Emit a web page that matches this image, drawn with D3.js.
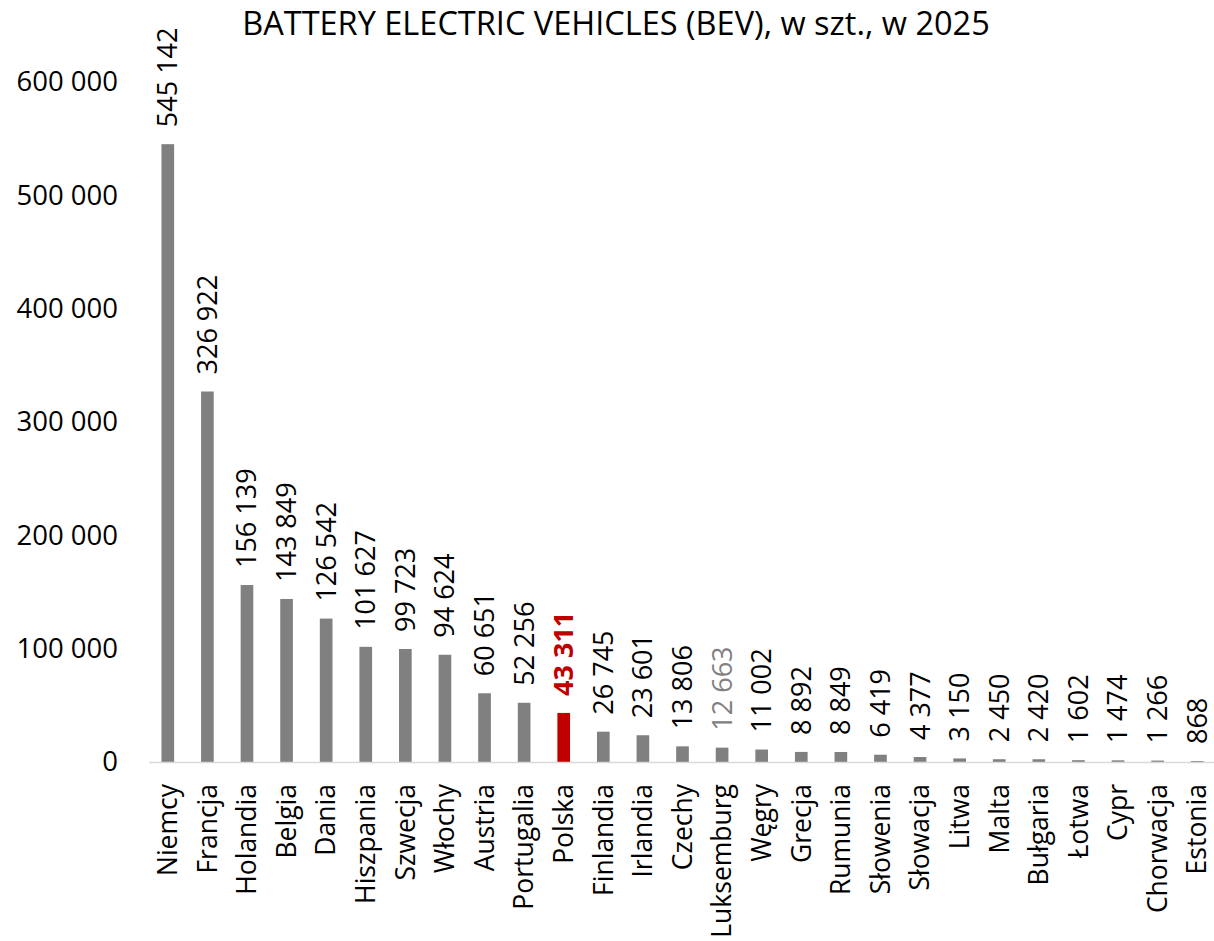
<!DOCTYPE html>
<html><head><meta charset="utf-8">
<script src="https://cdn.jsdelivr.net/npm/d3@7/dist/d3.min.js"></script>
<style>body{margin:0;background:#fff;} text{font-family:"Open Sans",sans-serif;}</style>
</head><body><svg id="c" width="1214" height="941"></svg>
<script>
const categories = ["Niemcy","Francja","Holandia","Belgia","Dania","Hiszpania","Szwecja","Włochy","Austria","Portugalia","Polska","Finlandia","Irlandia","Czechy","Luksemburg","Węgry","Grecja","Rumunia","Słowenia","Słowacja","Litwa","Malta","Bułgaria","Łotwa","Cypr","Chorwacja","Estonia"];
const values = [545142,326922,156139,143849,126542,101627,99723,94624,60651,52256,43311,26745,23601,13806,12663,11002,8892,8849,6419,4377,3150,2450,2420,1602,1474,1266,868];
const yTicks = [0,100000,200000,300000,400000,500000,600000];
const title = "BATTERY ELECTRIC VEHICLES (BEV), w szt., w 2025";

const svg = d3.select("#c");
const fmt = v => d3.format(",")(v).replace(/,/g, " ");
const x = d3.scaleBand().domain(categories).range([148, 1217]).paddingInner(0.68).paddingOuter(0.34);
const y = d3.scaleLinear().domain([0, 600000]).range([762, 82]);

svg.append("text").attr("x", 616).attr("y", 35).attr("text-anchor", "middle")
  .attr("font-size", 32.5).attr("fill", "#000").text(title);

// y axis labels
const yAxis = d3.axisLeft(y).tickValues(yTicks).tickFormat(fmt).tickSize(0).tickPadding(0);
const ga = svg.append("g").attr("transform", "translate(118,0)").call(yAxis);
ga.select(".domain").remove();
ga.selectAll("text").attr("font-size", 27.5).attr("fill", "#000").attr("font-family", "Open Sans");

// bars
svg.selectAll("rect.bar").data(categories).join("rect")
  .attr("x", d => x(d)).attr("width", x.bandwidth())
  .attr("y", (d, i) => y(values[i])).attr("height", (d, i) => y(0) - y(values[i]))
  .attr("fill", d => d === "Polska" ? "#C00000" : "#808080");

// x axis line
svg.append("line").attr("x1", 149).attr("x2", 1214).attr("y1", 762.5).attr("y2", 762.5)
  .attr("stroke", "#d9d9d9").attr("stroke-width", 1.5);

// category labels
svg.selectAll("text.cat").data(categories).join("text").attr("class", "cat")
  .attr("transform", d => `translate(${x(d) + x.bandwidth() / 2},784) rotate(-90)`)
  .attr("text-anchor", "end").attr("dy", "0.35em").attr("font-size", 26.5).attr("fill", "#000")
  .text(d => d);

// value labels
svg.selectAll("text.val").data(categories).join("text").attr("class", "val")
  .attr("transform", (d, i) => `translate(${x(d) + x.bandwidth() / 2},${y(values[i]) - 17}) rotate(-90)`)
  .attr("text-anchor", "start").attr("dy", "0.35em").attr("font-size", 27)
  .attr("font-weight", d => d === "Polska" ? "bold" : "normal")
  .attr("fill", d => d === "Polska" ? "#C00000" : (d === "Luksemburg" ? "#808080" : "#000"))
  .text((d, i) => fmt(values[i]));
</script></body></html>
